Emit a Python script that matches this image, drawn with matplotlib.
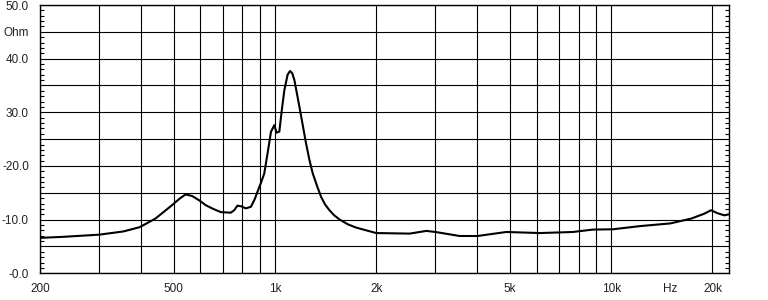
import matplotlib
matplotlib.use("Agg")
import matplotlib.pyplot as plt
from matplotlib.ticker import FixedLocator, NullFormatter
import matplotlib.transforms as mtransforms

# impedance curve (Hz, Ohm)
freq = [200, 235, 300, 354, 396, 441, 494, 520, 542, 567, 595, 622, 655, 690,
        739, 756, 773, 792, 819, 848, 870, 887, 910, 929, 950, 973, 995, 1011,
        1030, 1048, 1066, 1090, 1108, 1125, 1142, 1162, 1182, 1210, 1237, 1265,
        1295, 1335, 1372, 1410, 1452, 1500, 1558, 1650, 1747, 2000, 2516, 2818,
        3000, 3542, 4000, 4876, 6130, 7690, 8820, 10100, 12200, 15000, 17300,
        18900, 19800, 20700, 21700, 22400]
ohm = [6.6, 6.8, 7.2, 7.8, 8.6, 10.2, 12.7, 13.9, 14.7, 14.4, 13.6, 12.7, 12.0, 11.4,
       11.3, 11.75, 12.6, 12.5, 12.1, 12.4, 13.8, 15.2, 17.0, 18.6, 22.3, 26.4, 27.6, 26.2,
       26.4, 30.5, 34.1, 37.0, 37.7, 37.3, 36.0, 33.5, 31.0, 27.5, 24.2, 21.2,
       18.6, 16.2, 14.2, 12.8, 11.75, 10.8, 10.0, 9.1, 8.5, 7.5, 7.4, 7.9,
       7.7, 6.95, 6.95, 7.7, 7.5, 7.7, 8.15, 8.2, 8.8, 9.3, 10.2,
       11.1, 11.75, 11.2, 10.8, 11.0]

x_grid = [200, 300, 400, 500, 600, 700, 800, 900, 1000, 2000, 3000, 4000,
          5000, 6000, 7000, 8000, 9000, 10000, 20000]
x_labels = {200: "200", 500: "500", 1000: "1k", 2000: "2k", 5000: "5k",
            10000: "10k", 20000: "20k"}
y_ticks = [0, 5, 10, 15, 20, 25, 30, 35, 40, 45, 50]
y_labels = ["-0.0", "", "-10.0", "", "-20.0", "", "30.0", "", "40.0", "Ohm", "50.0"]

plt.rcParams['font.family'] = ['Liberation Sans', 'DejaVu Sans']

fig = plt.figure(figsize=(7.68, 3.0), dpi=100)
ax = fig.add_axes([40 / 768, 26.7 / 300, 689 / 768, 268.3 / 300])

ax.plot(freq, ohm, color="black", linewidth=1.5, zorder=3)

ax.set_xscale("log")
ax.set_xlim(200, 22400)
ax.set_ylim(0, 50)

ax.set_xticks(x_grid)
ax.set_xticklabels([x_labels.get(f, "") for f in x_grid])
ax.xaxis.set_minor_locator(FixedLocator([]))
ax.xaxis.set_minor_formatter(NullFormatter())

ax.set_yticks(y_ticks)
ax.set_yticklabels(y_labels)
ax.yaxis.set_minor_locator(FixedLocator([v for v in range(0, 51) if v % 5]))

ax.grid(True, which="major", color="black", linewidth=0.8)
ax.tick_params(axis="x", which="major", length=0, pad=7, labelsize=8.5, labelcolor="#222222")
ax.tick_params(axis="y", which="major", length=0, pad=8, labelsize=8.5, labelcolor="#222222")
ax.tick_params(axis="y", which="minor", direction="in", length=3,
               left=True, right=True, width=0.8)

for s in ax.spines.values():
    s.set_linewidth(1.0)

trans = mtransforms.blended_transform_factory(ax.transData, ax.transAxes)
ax.text(15000, -0.035, "Hz", transform=trans, ha="center", va="top",
        fontsize=8.5, color="#222222")

fig.savefig("out.png", dpi=100)
